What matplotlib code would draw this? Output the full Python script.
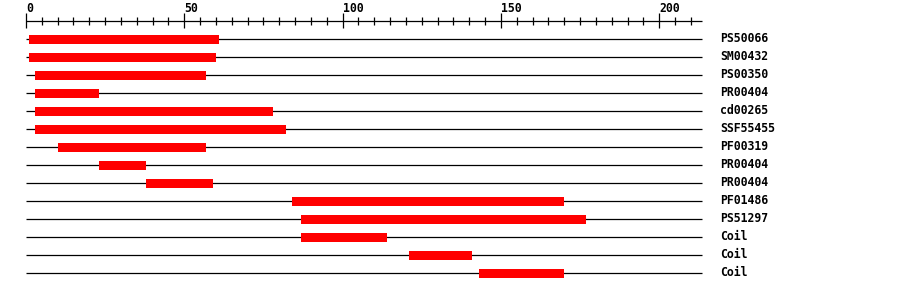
import numpy as np
import matplotlib
matplotlib.use("Agg")
import matplotlib.pyplot as plt

# domain hits on the sequence (residue positions)
names = ["PS50066", "SM00432", "PS00350", "PR00404", "cd00265", "SSF55455",
         "PF00319", "PR00404", "PR00404", "PF01486", "PS51297", "Coil", "Coil", "Coil"]
starts = [1, 1, 3, 3, 3, 3, 10, 23, 38, 84, 87, 87, 121, 143]
ends = [61, 60, 57, 23, 78, 82, 57, 38, 59, 170, 177, 114, 141, 170]

seq_len = 213.5
major_ticks = [0, 50, 100, 150, 200]
minor_ticks = [t for t in range(5, 215, 5) if t % 50]

fig = plt.figure(figsize=(9, 2.92), dpi=100)
ax = fig.add_axes([0, 0, 1, 1])
ax.set_xlim(-26 / 3.166, (900 - 26) / 3.166)
ax.set_ylim((292 - 39) / 18, -39 / 18)
ax.axis("off")

font = dict(family="DejaVu Sans Mono", weight="bold", fontsize=8.3)

# ruler on top
ax.hlines(-1, 0, seq_len, color="black", lw=0.9)
ax.vlines(major_ticks, -1.44, -0.61, color="black", lw=0.9)
ax.vlines(minor_ticks, -1.2, -0.8, color="black", lw=0.9)
for t in major_ticks:
    ax.text(t, -1.72, str(t), ha="left", va="center", **font)

rows = np.arange(len(names))
ax.hlines(rows, 0, seq_len, color="black", lw=0.9, zorder=1)
ax.barh(rows, np.array(ends) - np.array(starts), left=starts, height=0.5,
        color="#ff0000", zorder=2)
for r, n in zip(rows, names):
    ax.text(219.2, r, n, ha="left", va="center", **font)

fig.savefig("out.png", dpi=100)
